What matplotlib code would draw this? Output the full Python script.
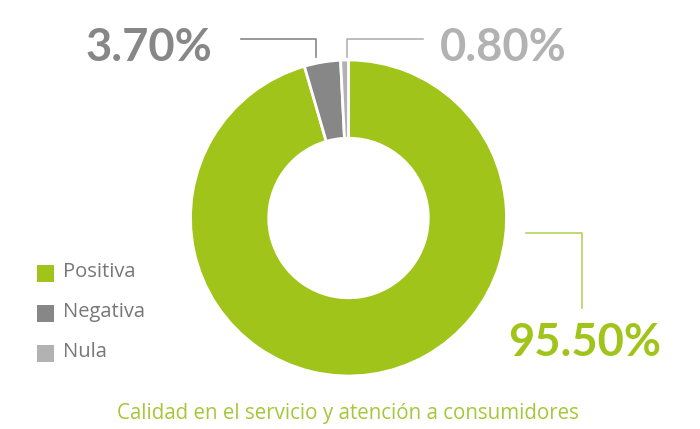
import matplotlib
matplotlib.use("Agg")
import matplotlib.pyplot as plt
from matplotlib.patches import Rectangle

categories = ["Positiva", "Negativa", "Nula"]
values = [95.5, 3.7, 0.8]
labels = ["95.50%", "3.70%", "0.80%"]
colors = ["#a1c41a", "#878787", "#b2b2b2"]
title = "Calidad en el servicio y atención a consumidores"

W, H = 700, 429
fig = plt.figure(figsize=(7, 4.29), dpi=100)
ax = fig.add_axes([0, 0, 1, 1])
ax.set_xlim(0, W)
ax.set_ylim(0, H)
ax.set_aspect("equal")
ax.axis("off")

def Y(py):
    return H - py

cx, cy, R = 348.5, Y(218), 158
ax.pie(values, colors=colors, startangle=90, counterclock=False,
       center=(cx, cy), radius=R, frame=True,
       wedgeprops=dict(width=R * 0.495, edgecolor="white", linewidth=2))
ax.set_xlim(0, W)
ax.set_ylim(0, H)
ax.axis("off")

font = "Lato"
# Leader lines
ax.plot([241, 316, 316], [Y(39), Y(39), Y(57)], color="#878787", lw=1.2)
ax.plot([347, 347, 423], [Y(57), Y(39), Y(39)], color="#b2b2b2", lw=1.2)
ax.plot([526, 582, 582], [Y(233), Y(233), Y(308)], color="#b5d35a", lw=1.2)

fs = 32.6
ax.text(212, Y(48), labels[1], ha="right", va="center", fontsize=fs,
        fontweight="bold", color=colors[1], family=font)
ax.text(440, Y(48), labels[2], ha="left", va="center", fontsize=fs,
        fontweight="bold", color=colors[2], family=font)
ax.text(508, Y(343), labels[0], ha="left", va="center", fontsize=fs,
        fontweight="bold", color=colors[0], family=font)

# Legend
for i, (cat, col) in enumerate(zip(categories, colors)):
    py = 273 + i * 40
    ax.add_patch(Rectangle((37, Y(py) - 9), 17, 17, color=col, lw=0))
    ax.text(63, Y(py) + 1, cat, ha="left", va="center", fontsize=14.5,
            color="#777777", family="Open Sans")

ax.text(348, Y(413), title, ha="center", va="center", fontsize=14.8,
        color="#a5c83a", family="Open Sans")

fig.savefig("out.png", dpi=100, facecolor="white")
